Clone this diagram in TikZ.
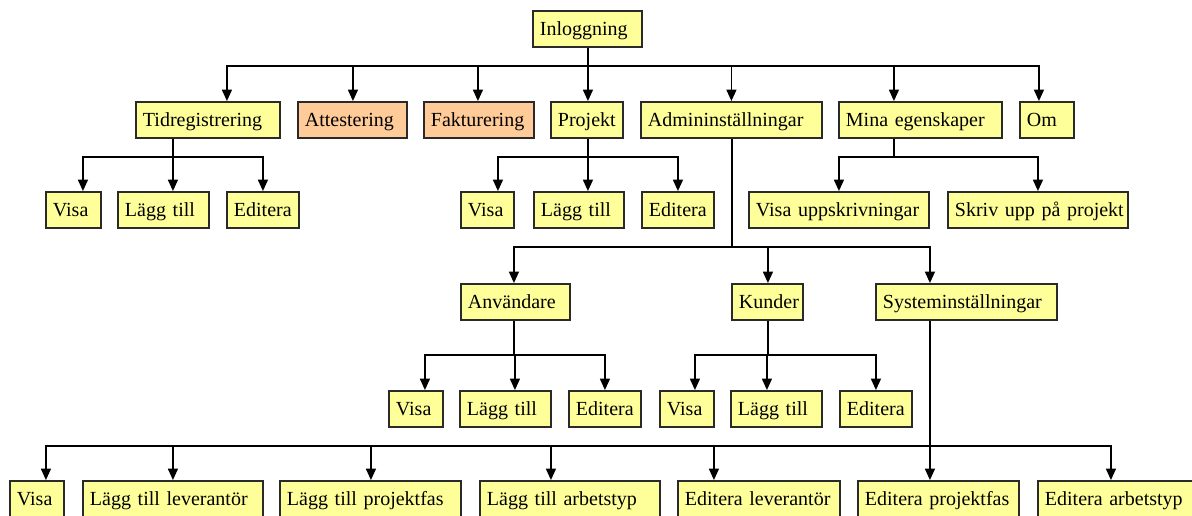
\documentclass[tikz,border=0pt]{standalone}
\usepackage{fontspec}
\setmainfont{Liberation Serif}
\usetikzlibrary{arrows.meta,calc}
\definecolor{boxyellow}{HTML}{FFFF99}
\definecolor{boxorange}{HTML}{FFCC99}
\definecolor{boxline}{HTML}{2A2A2A}
\tikzset{
  box/.style={draw=boxline, line width=1.4pt, fill=boxyellow, rectangle,
    anchor=north west, inner xsep=5.25pt, inner ysep=0pt, minimum height=27pt,
    text height=10pt, text depth=0pt, align=left,
    font=\fontsize{15}{18}\selectfont},
  pending/.style={fill=boxorange},
  conn/.style={draw=black, line width=1pt},
  arr/.style={conn, -{Triangle[length=8.5pt,width=7.5pt]}},
}
% \menubox[extra style]{name}{left}{top}{right}{label}, positions in pixels
\newcommand\menubox[6][]{%
  \pgfmathsetmacro\mbw{(#5-#3)*0.75}%
  \pgfmathsetmacro\mbt{(#5-#3-14)*0.75}%
  \node[box,#1,minimum width=\mbw pt,text width=\mbt pt] (#2) at (#3,#4) {\mbox{#6}};}

\begin{document}
\begin{tikzpicture}[x=0.75pt,y=-0.75pt]
\path[use as bounding box, clip] (0,0) rectangle (1192,515);
\fill[white] (0,0) rectangle (1192,515);

% top level
\menubox{inlog}{532}{10}{641}{Inloggning}

% main menu
\menubox{tid}{135}{101}{279}{Tidregistrering}
\menubox[pending]{att}{297}{101}{406}{Attestering}
\menubox[pending]{fak}{423}{101}{533}{Fakturering}
\menubox{proj}{550}{101}{622}{Projekt}
\menubox{adm}{640}{101}{821}{Admininställningar}
\menubox{mina}{838}{101}{1001}{Mina egenskaper}
\menubox{om}{1019}{101}{1073}{Om}

% second level
\menubox{v1}{45}{191}{100}{Visa}
\menubox{l1}{117}{191}{208}{Lägg till}
\menubox{e1}{226}{191}{298}{Editera}
\menubox{v2}{460}{191}{513}{Visa}
\menubox{l2}{533}{191}{623}{Lägg till}
\menubox{e2}{641}{191}{713}{Editera}
\menubox{vupp}{748}{191}{928}{Visa uppskrivningar}
\menubox{skriv}{947}{191}{1127}{Skriv upp på projekt}

% admin sections
\menubox{anv}{460}{283}{569}{Användare}
\menubox{kund}{731}{283}{802}{Kunder}
\menubox{sys}{875}{283}{1056}{Systeminställningar}

\menubox{v3}{388}{390}{442}{Visa}
\menubox{l3}{459}{390}{550}{Lägg till}
\menubox{e3}{568}{390}{640}{Editera}
\menubox{v4}{659}{390}{713}{Visa}
\menubox{l4}{730}{390}{821}{Lägg till}
\menubox{e4}{839}{390}{911}{Editera}

\menubox{v5}{9}{480}{63}{Visa}
\menubox{lev}{82}{480}{262}{Lägg till leverantör}
\menubox{pfas}{279}{480}{460}{Lägg till projektfas}
\menubox{atyp}{479}{480}{659}{Lägg till arbetstyp}
\menubox{elev}{677}{480}{839}{Editera leverantör}
\menubox{epfas}{857}{480}{1018}{Editera projektfas}
\menubox{eatyp}{1037}{480}{1199}{Editera arbetstyp}

% junctions below each parent
\coordinate (j0) at ($(inlog.south)+(0.5,18)$);
\coordinate (j1) at ($(tid.south)+(-35,18)$);
\coordinate (j2) at ($(proj.south)+(1,18)$);
\coordinate (j3) at ($(mina.south)+(-26.5,18)$);
\coordinate (j4) at ($(adm.south)+(0.5,108)$);
\coordinate (j5) at ($(anv.south)+(-1.5,34)$);
\coordinate (j6) at ($(kund.south)+(0.5,34)$);
\coordinate (j7) at ($(sys.south)+(-36.5,125)$);

\draw[conn] ($(inlog.south)+(0.5,0)$) -- (j0);
\draw[conn] ($(tid.south)+(-35,0)$) -- (j1);
\draw[conn] ($(proj.south)+(1,0)$) -- (j2);
\draw[conn] ($(mina.south)+(-26.5,0)$) -- (j3);
\draw[conn] ($(adm.south)+(0.5,0)$) -- (j4);
\draw[conn] ($(anv.south)+(-1.5,0)$) -- (j5);
\draw[conn] ($(kund.south)+(0.5,0)$) -- (j6);
\draw[conn] ($(sys.south)+(-36.5,0)$) -- (j7);

% Inloggning
\draw[arr] (j0) -| ($(tid.north)+(19,0)$);
\draw[arr] (j0) -| ($(att.north)+(0.5,0)$);
\draw[arr] (j0) -| ($(fak.north)+(-1,0)$);
\draw[arr] (j0) -| ($(proj.north)+(1,0)$);
\draw[arr] (j0) -| ($(adm.north)+(0,0)$);
\draw[arr] (j0) -| ($(mina.north)+(-26.5,0)$);
\draw[arr] (j0) -| ($(om.north)+(-8,0)$);

% Tidregistrering
\draw[arr] (j1) -| ($(v1.north)+(9.5,0)$);
\draw[arr] (j1) -| ($(l1.north)+(9.5,0)$);
\draw[arr] (j1) -| (e1.north);

% Projekt
\draw[arr] (j2) -| ($(v2.north)+(10.5,0)$);
\draw[arr] (j2) -| ($(l2.north)+(9,0)$);
\draw[arr] (j2) -| (e2.north);

% Mina egenskaper
\draw[arr] (j3) -| (vupp.north);
\draw[arr] (j3) -| (skriv.north);

% Admininställningar
\draw[arr] (j4) -| ($(anv.north)+(-1.5,0)$);
\draw[arr] (j4) -| ($(kund.north)+(0.5,0)$);
\draw[arr] (j4) -| ($(sys.north)+(-36.5,0)$);

% Användare
\draw[arr] (j5) -| ($(v3.north)+(9,0)$);
\draw[arr] (j5) -| ($(l3.north)+(9.5,0)$);
\draw[arr] (j5) -| (e3.north);

% Kunder
\draw[arr] (j6) -| ($(v4.north)+(8,0)$);
\draw[arr] (j6) -| ($(l4.north)+(-9.5,0)$);
\draw[arr] (j6) -| (e4.north);

% Systeminställningar
\draw[arr] (j7) -| ($(v5.north)+(9,0)$);
\draw[arr] (j7) -| (lev.north);
\draw[arr] (j7) -| ($(pfas.north)+(0.5,0)$);
\draw[arr] (j7) -| ($(atyp.north)+(-19,0)$);
\draw[arr] (j7) -| ($(elev.north)+(-45,0)$);
\draw[arr] (j7) -| ($(epfas.north)+(-8.5,0)$);
\draw[arr] (j7) -| ($(eatyp.north)+(-8,0)$);
\end{tikzpicture}
\end{document}
